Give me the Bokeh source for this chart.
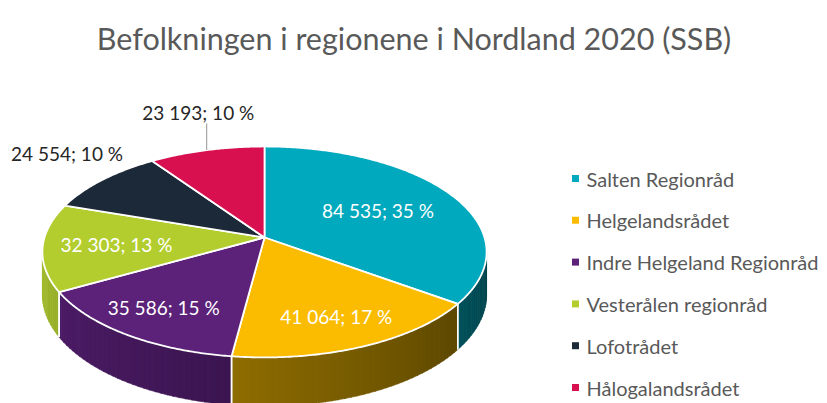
import numpy as np
from bokeh.plotting import figure
from bokeh.models import Range1d
from bokeh.core.properties import value
from bokeh.embed import file_html
from bokeh.resources import INLINE

# ---------------- data ----------------
title_text = "Befolkningen i regionene i Nordland 2020 (SSB)"
regions = ["Salten Regionråd", "Helgelandsrådet", "Indre Helgeland Regionråd",
           "Vesterålen regionråd", "Lofotrådet", "Hålogalandsrådet"]
population = [84535, 41064, 35586, 32303, 24554, 23193]

# ---------------- style ----------------
top_colors = ["#00A9BD", "#FBBC00", "#5C2179", "#B3CD2F", "#1C2939", "#D81050"]
side_light = ["#00505A", "#8E6C00", "#4C1C66", "#A2BC2D", "#1C2939", "#D81050"]
side_dark = ["#00434B", "#5C4700", "#3B1550", "#97AF28", "#1C2939", "#D81050"]
label_inside = [True, True, True, True, False, False]
label_radius = [0.6, 0.75, 0.75, 0.67, 1.36, 1.49]
label_angle_shift = [0.0, 0.0, 0.0, 0.0, 5.0, 3.3]
leader = [False, False, False, False, False, True]

FONT = "Lato"
W, H = 827, 403
CX, CY, RX, RY, P, DEPTH = 264.0, 237.0, 220.0, 103.5, 0.137, 42.0


def proj(t, r=1.0, down=0.0):
    u = r * np.cos(t)
    v = r * np.sin(t)
    w = 1.0 / (1.0 - P * v)
    return CX + RX * u * w, CY + RY * v * w + DEPTH * w * down


def hex2rgb(h):
    h = h.lstrip("#")
    return np.array([int(h[i:i + 2], 16) for i in (0, 2, 4)], dtype=float)


def rgb2hex(c):
    return "#%02x%02x%02x" % tuple(int(round(x)) for x in c)


total = float(sum(population))
fracs = [v / total for v in population]
cum = np.concatenate([[0.0], np.cumsum(fracs)])
t_start = -np.pi / 2 + 2 * np.pi * cum[:-1]
t_end = -np.pi / 2 + 2 * np.pi * cum[1:]

p = figure(width=W, height=H, output_backend="svg", toolbar_location=None,
           x_range=Range1d(0, W), y_range=Range1d(H, 0),
           min_border=0, outline_line_color=None)
p.axis.visible = False
p.grid.visible = False
p.background_fill_color = "white"
p.border_fill_color = "white"

# ---------------- side walls (front, visible part) ----------------
ts = np.arcsin(P)
vis_lo, vis_hi = ts, np.pi - ts
strip_xs, strip_ys, strip_cols = [], [], []
edge_xs, edge_ys = [], []
for i in range(len(population)):
    a0, a1 = max(t_start[i], vis_lo), min(t_end[i], vis_hi)
    if a1 <= a0:
        continue
    n = max(2, int(np.degrees(a1 - a0) / 1.5))
    bounds = np.linspace(a0, a1, n + 1)
    cl, cd = hex2rgb(side_light[i]), hex2rgb(side_dark[i])
    for k in range(n):
        s0, s1 = bounds[k], min(bounds[k + 1] + 0.004, a1)
        tt = np.linspace(s0, s1, 6)
        xt, yt = proj(tt)
        xb, yb = proj(tt[::-1], down=1.0)
        strip_xs.append(list(np.concatenate([xt, xb])))
        strip_ys.append(list(np.concatenate([yt, yb])))
        f = (0.5 * (s0 + s1) - a0) / (a1 - a0)
        strip_cols.append(rgb2hex(cd + (cl - cd) * f))
    for a in (t_start[i], t_end[i]):
        if vis_lo < a < vis_hi:
            x0, y0 = proj(a)
            x1, y1 = proj(a, down=1.0)
            edge_xs.append([x0, x1])
            edge_ys.append([y0, y1])

p.patches(strip_xs, strip_ys, fill_color=strip_cols, line_color=strip_cols, line_width=0.6)
p.multi_line(edge_xs, edge_ys, line_color="white", line_width=1.5)

# ---------------- top face ----------------
top_xs, top_ys = [], []
for i in range(len(population)):
    n = max(8, int(np.degrees(t_end[i] - t_start[i]) * 2))
    tt = np.linspace(t_start[i], t_end[i], n)
    xa, ya = proj(tt)
    top_xs.append([CX] + list(xa))
    top_ys.append([CY] + list(ya))
p.patches(top_xs, top_ys, fill_color=top_colors, line_color="white", line_width=1.8,
          line_join="round")

# ---------------- data labels ----------------
def fmt(v, f):
    return "{:,}".format(v).replace(",", " ") + "; " + str(int(round(f * 100))) + " %"

for i in range(len(population)):
    tm = 0.5 * (t_start[i] + t_end[i]) + np.radians(label_angle_shift[i])
    lx, ly = proj(tm, r=label_radius[i])
    txt = fmt(population[i], fracs[i])
    color = "white" if label_inside[i] else "#262626"
    p.text(x=[lx], y=[ly], text=[txt], text_align="center", text_baseline="middle",
           text_font=value(FONT), text_font_size="19px", text_color=color)
    if leader[i]:
        tmid = 0.5 * (t_start[i] + t_end[i])
        rx0, ry0 = proj(tmid)
        p.line([rx0, rx0], [ry0, ly + 11], line_color="#A6A6A6", line_width=1.2)

# ---------------- title ----------------
p.text(x=[413.5], y=[37], text=[title_text], text_align="center", text_baseline="alphabetic",
       text_font=value(FONT), text_font_size="30.5px", text_color="#595959")

# ---------------- legend ----------------
LX, LY0, LDY = 575, 178, 41.8
leg_y = [LY0 + LDY * i for i in range(len(regions))]
p.scatter(x=[LX] * len(regions), y=leg_y, marker="square", size=7,
          fill_color=top_colors, line_color=None)
p.text(x=[LX + 11] * len(regions), y=leg_y, text=regions, text_align="left",
       text_baseline="middle", text_font=value(FONT), text_font_size="20px",
       text_color="#595959")

open("out.html", "w").write(file_html(p, INLINE))
